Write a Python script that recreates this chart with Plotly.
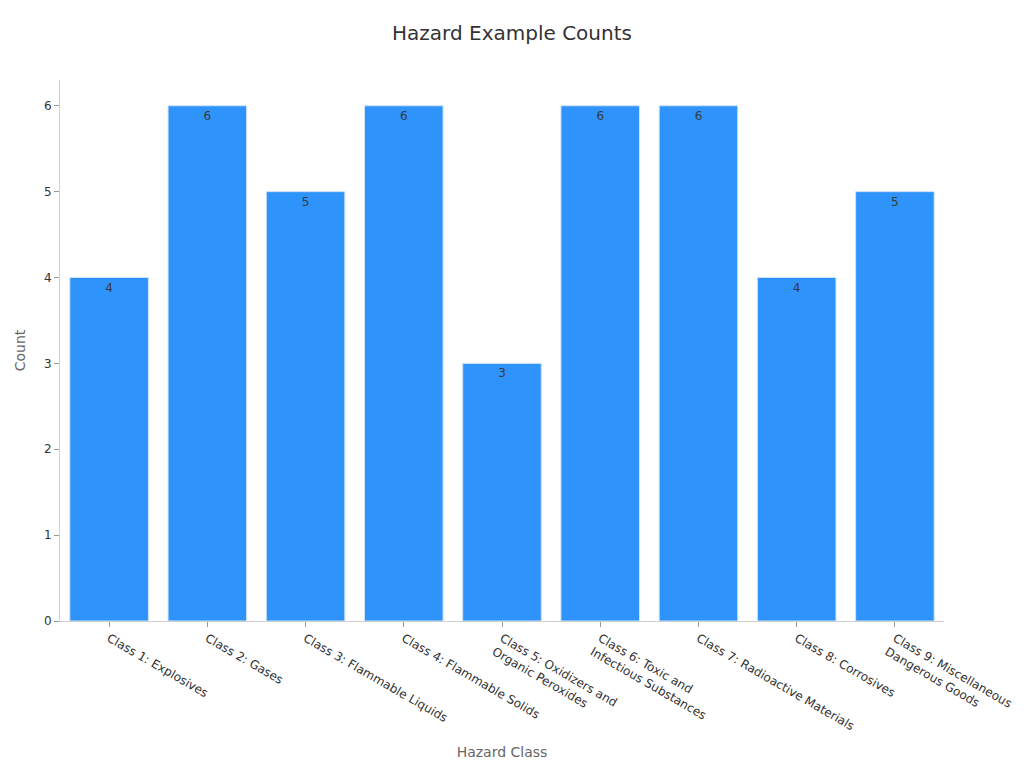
import plotly.graph_objects as go

categories = [
    "Class 1: Explosives",
    "Class 2: Gases",
    "Class 3: Flammable Liquids",
    "Class 4: Flammable Solids",
    "Class 5: Oxidizers and<br>Organic Peroxides",
    "Class 6: Toxic and<br>Infectious Substances",
    "Class 7: Radioactive Materials",
    "Class 8: Corrosives",
    "Class 9: Miscellaneous<br>Dangerous Goods",
]
counts = [4, 6, 5, 6, 3, 6, 6, 4, 5]

fig = go.Figure(
    go.Bar(
        x=categories,
        y=counts,
        text=counts,
        textposition="inside",
        insidetextanchor="end",
        textfont=dict(color="#3a3a3a", size=12),
        marker=dict(color="#2e93fa", line=dict(color="#cfe3f7", width=1)),
    )
)

fig.update_layout(
    width=1008,
    height=752,
    paper_bgcolor="white",
    plot_bgcolor="white",
    font=dict(family="DejaVu Sans", color="#333"),
    title=dict(text="Hazard Example Counts", x=0.5, xanchor="center", y=0.976,
               font=dict(size=20, color="#333")),
    margin=dict(l=52, r=72, t=72, b=139),
    bargap=0.2,
    showlegend=False,
)
fig.update_xaxes(
    title=dict(text="Hazard Class", font=dict(size=14, color="#666"), standoff=15),
    tickangle=30,
    automargin=False,
    tickfont=dict(size=12, color="#333"),
    showline=True, linecolor="#d0d0d0", linewidth=1,
    ticks="outside", tickcolor="#999", ticklen=5,
    showgrid=False,
)
fig.update_yaxes(
    title=dict(text="Count", font=dict(size=14, color="#666")),
    automargin=False,
    range=[0, 6.3],
    dtick=1,
    tickfont=dict(size=12, color="#333"),
    showline=True, linecolor="#d0d0d0", linewidth=1,
    ticks="outside", tickcolor="#999", ticklen=5,
    showgrid=False, zeroline=False,
)

fig.write_html("out.html")
